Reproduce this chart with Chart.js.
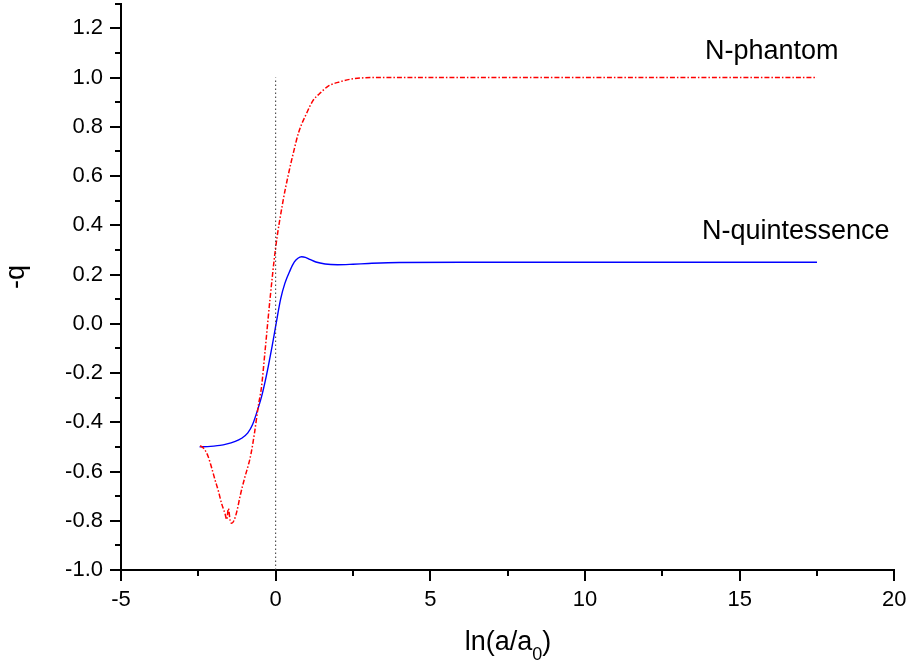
<!DOCTYPE html>
<html>
<head>
<meta charset="utf-8">
<script src="https://cdn.jsdelivr.net/npm/chart.js@4/dist/chart.umd.min.js"></script>
<style>
html,body{margin:0;padding:0;background:#fff;}
#wrap{width:909px;height:667px;position:relative;}
</style>
</head>
<body>
<div id="wrap"><canvas id="c" width="909" height="667"></canvas></div>
<script>
// ---- data ----
const quintX = [-2.46,-2.2,-2.0,-1.8,-1.6,-1.33,-1.1,-0.9,-0.75,-0.62,-0.456,-0.35,-0.24,-0.12,0,0.16,0.3,0.46,0.6,0.72,0.84,0.96,1.1,1.3,1.6,2.0,2.5,3.0,4.0,6,10,17.5];
const quintY = [-0.50,-0.499,-0.497,-0.494,-0.489,-0.479,-0.465,-0.443,-0.41,-0.364,-0.296,-0.24,-0.174,-0.095,-0.01,0.10,0.165,0.215,0.25,0.266,0.272,0.27,0.262,0.251,0.243,0.240,0.242,0.245,0.249,0.25,0.25,0.25];

const phantX = [-2.44,-2.3,-2.18,-2.07,-1.96,-1.85,-1.75,-1.64,-1.58,-1.53,-1.47,-1.42,-1.35,-1.25,-1.15,-1.0,-0.886,-0.8,-0.68,-0.565,-0.456,-0.35,-0.185,0,0.245,0.4,0.57,0.75,1.0,1.2,1.43,1.7,2.08,2.5,3.15,4,6,10,17.5];
const phantY = [-0.495,-0.51,-0.54,-0.585,-0.634,-0.68,-0.729,-0.77,-0.795,-0.75,-0.80,-0.81,-0.80,-0.76,-0.70,-0.625,-0.575,-0.53,-0.44,-0.337,-0.255,-0.12,0.097,0.31,0.503,0.60,0.693,0.78,0.855,0.905,0.936,0.965,0.983,0.995,1.0,1.0,1.0,1.0,1.0];

const refLineX = [0, 0];
const refLineY = [-1.0, 1.0];

const xTickValues = [-5, 0, 5, 10, 15, 20];
const yTickLabels = ['-1.0','-0.8','-0.6','-0.4','-0.2','0.0','0.2','0.4','0.6','0.8','1.0','1.2'];

const seriesNames = ['N-quintessence', 'N-phantom'];
const xTitle = 'ln(a/a';
const xTitleSub = '0';
const xTitleEnd = ')';
const yTitle = '-q';

const toPts = (xs, ys) => xs.map((x, i) => ({x: x, y: ys[i]}));

const FONT = "'Liberation Sans', Arial, Helvetica, sans-serif";

const decorPlugin = {
  id: 'decor',
  afterDraw(chart) {
    const ctx = chart.ctx;
    const xs = chart.scales.x, ys = chart.scales.y;
    const ca = chart.chartArea;
    ctx.save();
    ctx.strokeStyle = '#000';
    ctx.lineWidth = 2;
    ctx.beginPath();
    for (let k = -10; k <= 13; k++) {
      const py = Math.round(ys.getPixelForValue(k / 10));
      const len = (k % 2 === 0) ? 11 : 6;
      ctx.moveTo(ca.left - len, py);
      ctx.lineTo(ca.left, py);
    }
    for (let k = -2; k <= 8; k++) {
      const px = Math.round(xs.getPixelForValue(k * 2.5));
      const len = (k % 2 === 0) ? 11 : 6;
      ctx.moveTo(px, ca.bottom);
      ctx.lineTo(px, ca.bottom + len);
    }
    ctx.stroke();

    ctx.fillStyle = '#000';
    ctx.font = '27px ' + FONT;
    ctx.textAlign = 'left';
    ctx.textBaseline = 'alphabetic';
    ctx.fillText(seriesNames[1], 705, 59);
    ctx.fillText(seriesNames[0], 702, 239);

    ctx.font = '27px ' + FONT;
    const w1 = ctx.measureText(xTitle).width;
    ctx.font = '18px ' + FONT;
    const w2 = ctx.measureText(xTitleSub).width;
    ctx.font = '27px ' + FONT;
    const w3 = ctx.measureText(xTitleEnd).width;
    const total = w1 + w2 + w3;
    let sx = 508 - total / 2;
    ctx.fillText(xTitle, sx, 650);
    ctx.font = '18px ' + FONT;
    ctx.fillText(xTitleSub, sx + w1, 660);
    ctx.font = '27px ' + FONT;
    ctx.fillText(xTitleEnd, sx + w1 + w2, 650);

    ctx.save();
    ctx.translate(24, 277);
    ctx.rotate(-Math.PI / 2);
    ctx.textAlign = 'center';
    ctx.fillText(yTitle, 0, 0);
    ctx.restore();
    ctx.restore();
  }
};

new Chart(document.getElementById('c'), {
  type: 'line',
  data: {
    datasets: [
      {
        label: 'ref',
        data: toPts(refLineX, refLineY),
        borderColor: '#333',
        borderWidth: 1,
        borderDash: [1.5, 2.5],
        pointRadius: 0,
        tension: 0
      },
      {
        label: seriesNames[1],
        data: toPts(phantX, phantY),
        borderColor: '#ff0000',
        borderWidth: 1.5,
        borderDash: [5, 2, 1.5, 2],
        pointRadius: 0,
        cubicInterpolationMode: 'monotone'
      },
      {
        label: seriesNames[0],
        data: toPts(quintX, quintY),
        borderColor: '#0000ff',
        borderWidth: 1.4,
        pointRadius: 0,
        cubicInterpolationMode: 'monotone'
      }
    ]
  },
  options: {
    responsive: false,
    animation: false,
    devicePixelRatio: 1,
    layout: { padding: { left: 0, right: 14.7, top: 3.7, bottom: 0 } },
    plugins: { legend: { display: false }, tooltip: { enabled: false } },
    elements: { line: { fill: false } },
    scales: {
      x: {
        type: 'linear',
        min: -5, max: 20,
        afterFit: s => { s.height = 97; s.paddingLeft = 0; s.paddingRight = 0; },
        afterBuildTicks: s => { s.ticks = xTickValues.map(v => ({value: v})); },
        grid: { display: true, drawOnChartArea: false, drawTicks: false, color: 'rgba(0,0,0,0)' },
        border: { display: true, color: '#000', width: 2 },
        ticks: {
          padding: 17,
          color: '#000',
          font: { family: FONT, size: 22 },
          maxRotation: 0,
          autoSkip: false,
          callback: v => String(v)
        }
      },
      y: {
        type: 'linear',
        min: -1.0, max: 1.3,
        afterFit: s => { s.width = 121; s.paddingTop = 0; s.paddingBottom = 0; },
        afterBuildTicks: s => { s.ticks = yTickLabels.map(t => ({value: parseFloat(t)})); },
        grid: { display: true, drawOnChartArea: false, drawTicks: false, color: 'rgba(0,0,0,0)' },
        border: { display: true, color: '#000', width: 2 },
        ticks: {
          padding: 18,
          color: '#000',
          font: { family: FONT, size: 22 },
          autoSkip: false,
          callback: (v, i) => yTickLabels[i]
        }
      }
    }
  },
  plugins: [decorPlugin]
});
</script>
</body>
</html>
